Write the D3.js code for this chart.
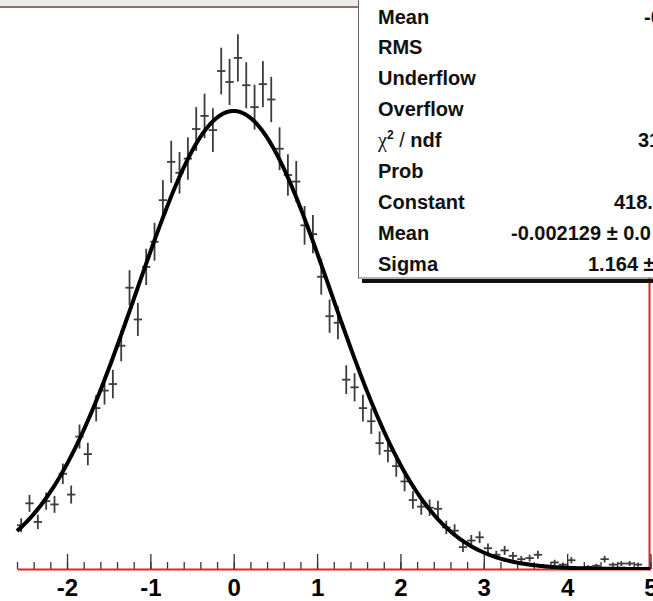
<!DOCTYPE html>
<html>
<head>
<meta charset="utf-8">
<script src="https://cdn.jsdelivr.net/npm/d3@7"></script>
<style>
  html, body { margin: 0; padding: 0; background: #fff; overflow: hidden; }
  svg { display: block; }
</style>
</head>
<body>
<svg id="chart" width="653" height="601"></svg>
<script>
// Histogram: bin centres (bin width 0.1) and counts per bin
const binWidth = 0.1;
const binCenters = [
  -2.55, -2.45, -2.35, -2.25, -2.15, -2.05, -1.95, -1.85, -1.75, -1.65,
  -1.55, -1.45, -1.35, -1.25, -1.15, -1.05, -0.95, -0.85, -0.75, -0.65,
  -0.55, -0.45, -0.35, -0.25, -0.15, -0.05, 0.05, 0.15, 0.25, 0.35,
  0.45, 0.55, 0.65, 0.75, 0.85, 0.95, 1.05, 1.15, 1.25, 1.35,
  1.45, 1.55, 1.65, 1.75, 1.85, 1.95, 2.05, 2.15, 2.25, 2.35,
  2.45, 2.55, 2.65, 2.75, 2.85, 2.95, 3.05, 3.15, 3.25, 3.35,
  3.45, 3.55, 3.65, 3.75, 3.85, 3.95, 4.05, 4.15, 4.25, 4.35,
  4.45, 4.55, 4.65, 4.75, 4.85, 4.95
];
const binCounts = [
  40, 60, 43, 62, 59, 87, 68, 121, 105, 147,
  163, 169, 204, 257, 228, 276, 299, 337, 372, 362,
  375, 402, 414, 401, 455, 445, 467, 442, 422, 443,
  429, 384, 360, 354, 314, 306, 267, 231, 225, 173,
  166, 147, 135, 115, 108, 94, 80, 63, 57, 56,
  55, 38, 35, 20, 26, 29, 19, 13, 17, 12,
  9, 10, 13, 2, 6, 4, 8, 1, 2, 3,
  9, 4, 5, 5, 4, 1
];

// Gaussian fit parameters: Constant, Mean, Sigma
const fitNames = ["Constant", "Mean", "Sigma"];
const fitValues = [418.5, -0.002129, 1.164];

// Axis ticks
const xMajorTicks = [-2, -1, 0, 1, 2, 3, 4, 5];
const xTickLabels = ["-2", "-1", "0", "1", "2", "3", "4", "5"];

// Statistics box rows
const statLabels = ["Mean", "RMS", "Underflow", "Overflow", "chi2", "Prob", "Constant", "Mean", "Sigma"];
const statValues = ["-0", "", "", "", "31", "", "418.", "-0.002129 \u00b1 0.0", "1.164 \u00b1"];

// ---------------------------------------------------------------------------
const W = 653, H = 601;
const svg = d3.select("#chart");
const FONT = "'Liberation Sans', Arial, Helvetica, sans-serif";

const x = d3.scaleLinear().domain([-2.6, 5]).range([17, 650.5]);
const y = d3.scaleLinear().domain([0, 513.5]).range([569, 7]);

// pad strip and frame top edge
svg.append("rect").attr("x", 0).attr("y", 0).attr("width", W).attr("height", 6)
  .attr("fill", "#ececec");
svg.append("line").attr("x1", 0).attr("x2", W).attr("y1", 7).attr("y2", 7)
  .attr("stroke", "#7a3434").attr("stroke-width", 1.5);

// right frame edge
svg.append("line").attr("x1", 649.5).attr("x2", 649.5).attr("y1", 7).attr("y2", 569)
  .attr("stroke", "#e8231f").attr("stroke-width", 2);

// clip for the plotted data
svg.append("defs").append("clipPath").attr("id", "plotClip")
  .append("rect").attr("x", 0).attr("y", 7).attr("width", 650).attr("height", 563);

// x axis: minor ticks every 0.2, major ticks with labels at integers
const minorTicks = d3.range(-2.6, 5.0001, 0.2);
const gMinor = svg.append("g").attr("transform", "translate(0,569)")
  .call(d3.axisBottom(x).tickValues(minorTicks).tickSize(-7).tickSizeOuter(0).tickFormat(""));
gMinor.select(".domain").remove();
gMinor.selectAll(".tick line").attr("stroke", "#333").attr("stroke-width", 1.3);

const gMajor = svg.append("g").attr("transform", "translate(0,569)")
  .call(d3.axisBottom(x).tickValues(xMajorTicks).tickSize(-15).tickSizeOuter(0)
    .tickPadding(10).tickFormat((d, i) => xTickLabels[i]));
gMajor.select(".domain").attr("stroke", "#e8231f").attr("stroke-width", 2);
gMajor.selectAll(".tick line").attr("stroke", "#333").attr("stroke-width", 1.3);
gMajor.selectAll(".tick text")
  .attr("font-family", FONT).attr("font-weight", "bold").attr("font-size", 24)
  .attr("fill", "#000");

// histogram points with error bars
const bins = binCenters.map((c, i) => ({ c, n: binCounts[i], e: Math.sqrt(binCounts[i]) }));
const gHist = svg.append("g").attr("clip-path", "url(#plotClip)")
  .attr("stroke", "#3c3c3c").attr("stroke-width", 1.8);
gHist.selectAll("line.ey").data(bins).join("line").attr("class", "ey")
  .attr("x1", d => x(d.c)).attr("x2", d => x(d.c))
  .attr("y1", d => y(Math.max(0, d.n - d.e))).attr("y2", d => y(d.n + d.e));
gHist.selectAll("line.ex").data(bins).join("line").attr("class", "ex")
  .attr("x1", d => x(d.c - binWidth / 2)).attr("x2", d => x(d.c + binWidth / 2))
  .attr("y1", d => y(d.n)).attr("y2", d => y(d.n));

// gaussian fit curve
const [gConst, gMean, gSigma] = fitValues;
const gauss = v => gConst * Math.exp(-0.5 * Math.pow((v - gMean) / gSigma, 2));
const curveX = d3.range(-2.6, 5.0001, 0.02);
svg.append("path")
  .datum(curveX)
  .attr("clip-path", "url(#plotClip)")
  .attr("fill", "none").attr("stroke", "#000").attr("stroke-width", 4)
  .attr("stroke-linejoin", "round")
  .attr("d", d3.line().x(v => x(v)).y(v => y(gauss(v))));

// statistics box with shadow
svg.append("rect").attr("x", 362).attr("y", 279).attr("width", 300).attr("height", 4)
  .attr("fill", "#111");
svg.append("rect").attr("x", 358.5).attr("y", -10).attr("width", 320).attr("height", 288)
  .attr("fill", "#fff").attr("stroke", "#666").attr("stroke-width", 1);

const valueStartX = [644, 0, 0, 0, 638, 0, 614, 511, 588];
const gStats = svg.append("g").attr("font-family", FONT).attr("font-weight", "bold")
  .attr("font-size", 20).attr("fill", "#111");
statLabels.forEach((lab, i) => {
  const by = 23.5 + i * 30.9;
  const t = gStats.append("text").attr("x", 378).attr("y", by);
  if (lab === "chi2") {
    t.append("tspan").attr("font-family", "'Liberation Serif', 'Times New Roman', serif")
      .attr("font-weight", "normal").text("\u03c7");
    t.append("tspan").attr("font-size", 12).attr("dy", -8).text("2");
    t.append("tspan").attr("dy", 8).attr("font-weight", "normal").text(" / ");
    t.append("tspan").text("ndf");
  } else {
    t.text(lab);
  }
  if (statValues[i]) {
    gStats.append("text").attr("x", valueStartX[i]).attr("y", by).text(statValues[i]);
  }
});
</script>
</body>
</html>
